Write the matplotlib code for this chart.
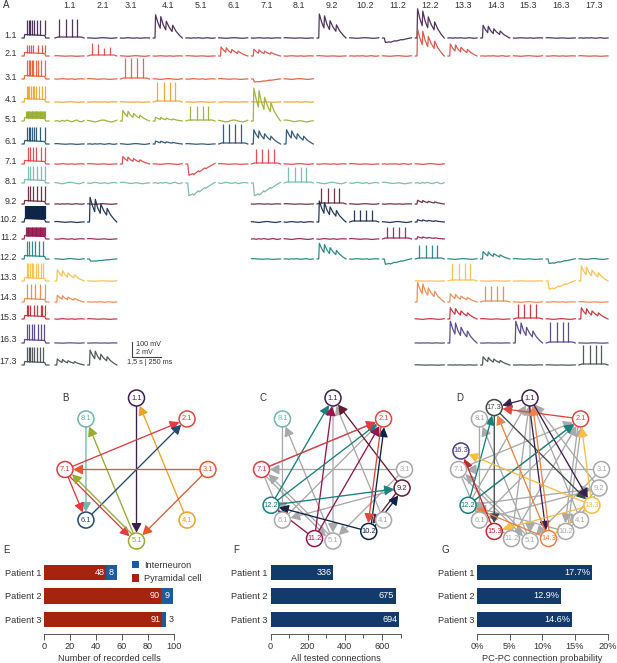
import numpy as np
import matplotlib
matplotlib.use('Agg')
import matplotlib.pyplot as plt
from matplotlib.patches import Circle, FancyArrowPatch

plt.rcParams['font.family'] = ['Liberation Sans', 'DejaVu Sans']
TXT = '#333333'
GREY = '#a9a9a9'

cells = ['1.1', '2.1', '3.1', '4.1', '5.1', '6.1', '7.1', '8.1', '9.2', '10.2',
         '11.2', '12.2', '13.3', '14.3', '15.3', '16.3', '17.3']
cell_colors = ['#3d1f4f', '#e0473c', '#e8562e', '#f0a126', '#96ad2e', '#1f4c6e',
               '#e03c42', '#6fb7ad', '#5f1f30', '#0e2548', '#96174e', '#17817e',
               '#f9bd40', '#ee8245', '#c9252f', '#4a3a86', '#3d4a4a']

# synaptic responses in mV, row = cell in the row label, None = the spiking cell itself
n = np.nan
S = None
resp_1_1 = [S, 0, 0, 3.1, 0, 0, 0, 0, 3.2, 0, -0.6, 3.9, 0, 1.7, 0, 0, 0]
resp_2_1 = [0, S, 0, 0, 0, 1.2, 0.9, 0, 0, 0, 0, 3.6, 1.6, 0, 0, 0, 0]
resp_3_1 = [0, 0, S, 0, 0, 0, -0.4, 0, n, n, n, n, n, n, n, n, n]
resp_4_1 = [0, 0, 0, S, 0, 0, 0, 0, n, n, n, n, n, n, n, n, n]
resp_5_1 = [0, 0, 1.4, 0.5, S, 0, 4.4, 0, n, n, n, n, n, n, n, n, n]
resp_6_1 = [0, 0, 0, 0.4, 0, S, 1.9, 1.9, n, n, n, n, n, n, n, n, n]
resp_7_1 = [0, 0, 1.0, 0, -1.5, 0, S, 0, 0, 0, 0, 0, n, n, n, n, n]
resp_8_1 = [0, 0, 0, 0, -1.7, 0, -1.7, S, 0, 0, 0, 0, n, n, n, n, n]
resp_9_2 = [0, 0, n, n, n, n, 0, 0, S, 0, 0, 0.5, n, n, n, n, n]
resp_10_2 = [0, 3.3, n, n, n, n, 0, 0, 2.8, S, 0, 0.3, n, n, n, n, n]
resp_11_2 = [0, 0, n, n, n, n, 0, 0, 0, 0, S, 0.3, n, n, n, n, n]
resp_12_2 = [0, -0.3, n, n, n, n, 0, 0, 2.1, 0, -0.7, S, 0, 1.0, 0, -0.6, 0]
resp_13_3 = [1.5, 0, n, n, n, n, n, n, n, n, n, 0, S, 0, 0, -1.1, 2.0]
resp_14_3 = [0.9, 0, n, n, n, n, n, n, n, n, n, 2.6, 1.1, S, 0, 0, 0]
resp_15_3 = [0, 0, n, n, n, n, n, n, n, n, n, 0, 1.5, 0, S, 0, 1.5]
resp_16_3 = [0, 0, n, n, n, n, n, n, n, n, n, 0, 2.9, 0, 2.9, S, 0]
resp_17_3 = [0.8, 2.0, n, n, n, n, n, n, n, n, n, 0, 0, 1.1, 0, 0, S]
responses = [resp_1_1, resp_2_1, resp_3_1, resp_4_1, resp_5_1, resp_6_1, resp_7_1,
             resp_8_1, resp_9_2, resp_10_2, resp_11_2, resp_12_2, resp_13_3, resp_14_3,
             resp_15_3, resp_16_3, resp_17_3]

# noise size of the flat traces, per row
row_noise = [0.6, 0.6, 0.8, 0.5, 2.0, 0.8, 0.7, 1.6, 0.6, 1.0, 0.9, 0.8, 0.4, 0.6, 0.7, 0.3, 0.4]

# action potential height in mV (column 0 traces and the diagonal ones)
self_ap = [120, 73, 127, 107, 67, 113, 113, 113, 120, 107, 80, 120, 120, 120, 93, 127, 120]
diag_ap = [127, 87, 140, 133, 100, 133, 100, 107, 107, 80, 80, 93, 120, 107, 100, 140, 133]
ap_rundown_2_1 = [1, .9, .6, .7]

# spike times as fraction of the trace, first column
burst = [.07, .10, .13, .16, .19, .22, .25, .28, .31, .34, .37, .40, .43, .46, .49, .52,
         .55, .58, .61, .64, .67, .70, .73, .76]
self_spikes = [[.12, .17, .23, .30, .38, .47, .59, .77],
               [.12, .19, .27, .35, .52, .66, .78],
               [.12, .18, .23, .28, .35, .43, .52, .62, .77],
               [.10, .15, .20, .26, .32, .38, .45, .55, .66, .76],
               burst,
               [.12, .18, .24, .30, .37, .46, .58, .76],
               [.13, .22, .33, .46, .62, .78],
               [.14, .22, .34, .47, .62, .78],
               [.14, .24, .35, .48, .62, .78],
               burst,
               burst,
               [.12, .20, .30, .42, .56, .70],
               [.10, .16, .22, .28, .35, .43, .52, .62, .72],
               [.12, .26, .40, .60, .78],
               [.10, .13, .22, .36, .48, .62, .68, .78],
               [.12, .20, .29, .38, .50, .62, .74],
               [.12, .18, .24, .31, .38, .47, .58, .72]]
diag_spikes = [.14, .37, .57, .76]

# waveforms
epsp_t = [0, .06, .08, .16, .24, .26, .34, .43, .45, .55, .65, .67, .78, .90, 1.0]
epsp_v = [0, 0, 1.0, .66, .42, .92, .58, .35, .72, .46, .28, .55, .30, .12, 0]
neg_t = [0, .06, .10, .24, .27, .43, .46, .65, .68, .85, 1.0]
neg_v = [0, 0, -1.0, -.85, -.95, -.6, -.7, -.35, -.42, -.15, .05]
noise_a = [0, .2, -.3, .3, -.1, .4, 0, -.4, .1, .5, -.2, -.4, .2]
noise_b = [.3, .1, -.2, -.5, -.2, .2, .5, .4, 0, -.3, -.5, -.1, .4]
noise_c = [0, -.3, .1, .4, .2, -.2, -.1, .3, -.4, -.1, .2, .3, 0]
noise_d = [.4, .5, .2, 0, -.3, -.2, .1, .1, -.2, -.5, -.3, 0, .1]
noise_shapes = [noise_a, noise_b, noise_c, noise_d]

# layout of panel A, pixels
row_base = [38, 56, 79, 102, 121, 144, 164, 183, 204, 222, 239, 259, 281, 302, 319, 343, 365]
row_text = [36, 54, 77, 100, 120, 142, 162, 182, 202, 220, 237, 257, 278, 298, 317, 339, 361]
COL_X0 = 55
COL_STEP = 32.75
TRACE_W = 29
PX_PER_MV = 7.5
PX_PER_100MV = 15
TRACE_LW = 0.9
TRACE_ALPHA = 0.9

# networks: position on the ring in degrees clockwise from the top
ring_deg = {'1.1': 0, '2.1': 45, '3.1': 90, '9.2': 105, '13.3': 120, '4.1': 135, '10.2': 150,
            '14.3': 165, '5.1': 180, '11.2': 195, '15.3': 210, '6.1': 225, '12.2': 240,
            '7.1': 270, '16.3': 285, '8.1': 315, '17.3': 330}

edges_p1 = [('1.1', '5.1'), ('4.1', '1.1'), ('8.1', '6.1'), ('5.1', '8.1'), ('7.1', '2.1'),
            ('6.1', '2.1'), ('3.1', '7.1'), ('3.1', '5.1'), ('7.1', '6.1'), ('7.1', '5.1'),
            ('5.1', '7.1')]
edges_p2 = [('12.2', '1.1'), ('11.2', '1.1'), ('12.2', '2.1'), ('11.2', '2.1'), ('10.2', '2.1'),
            ('9.2', '1.1'), ('2.1', '10.2'), ('12.2', '9.2'), ('10.2', '12.2'), ('9.2', '10.2'),
            ('10.2', '9.2'), ('11.2', '12.2')]
edges_p2_grey = [('9.2', '6.1')]
edges_p3 = [('1.1', '17.3'), ('2.1', '17.3'), ('17.3', '15.3'), ('17.3', '13.3'), ('1.1', '14.3'),
            ('1.1', '13.3'), ('12.2', '17.3'), ('12.2', '2.1'), ('13.3', '2.1'), ('13.3', '16.3'),
            ('13.3', '14.3'), ('13.3', '15.3'), ('14.3', '1.1'), ('14.3', '17.3'), ('14.3', '12.2'),
            ('15.3', '16.3')]

# bar charts
patients = ['Patient 1', 'Patient 2', 'Patient 3']
pyramidal = [48, 90, 91]
interneuron = [8, 9, 3]
tested = [336, 675, 694]
probability = [17.7, 12.9, 14.6]

fig = plt.figure(figsize=(6.17, 6.63), dpi=100)
ax = fig.add_axes([0, 0, 1, 1])
ax.set_xlim(0, 617)
ax.set_ylim(663, 0)
ax.axis('off')

for name, x, y in [('A', 3, 5), ('B', 62, 398), ('C', 259, 398), ('D', 456, 398),
                   ('E', 3, 550), ('F', 233, 550), ('G', 441, 550)]:
    ax.text(x, y, name, fontsize=7, color=TXT, ha='left', va='center')

# panel A
for j, c in enumerate(cells):
    shift = -5 if c == '3.1' else 0
    ax.text(70 + COL_STEP * j + shift, 6, c, fontsize=6.4, color=TXT, ha='center', va='center')

for i, c in enumerate(cells):
    col = cell_colors[i]
    base = row_base[i]
    style = dict(color=col, lw=TRACE_LW, alpha=TRACE_ALPHA)
    ax.text(17, row_text[i], c, fontsize=6.4, color=TXT, ha='right', va='center')

    # first column, full spike train on a current step
    x0 = 22
    ax.plot(x0 + np.array([0, .08, .10, .84, .88, 1]) * 27,
            base - np.array([0, 0, 3.5, 2.5, 0, 0]), **style)
    spike_style = dict(color=col, lw=1.6, alpha=1) if c == '10.2' else style
    ax.vlines(x0 + np.array(self_spikes[i]) * 27 + 2, base - 3,
              base - self_ap[i] / 100 * PX_PER_100MV, **spike_style)

    for j, amp in enumerate(responses[i]):
        x1 = COL_X0 + COL_STEP * j
        if amp is None:
            ax.plot(x1 + np.array([0, .1, .9, 1]) * TRACE_W, base - np.array([0, 1, 1, 0]), **style)
            heights = np.full(len(diag_spikes), diag_ap[i] / 100 * PX_PER_100MV)
            if c == '2.1':
                heights = heights * np.array(ap_rundown_2_1)
            ax.vlines(x1 + np.array(diag_spikes) * TRACE_W, base - 1, base - heights, **style)
        elif np.isnan(amp):
            continue
        elif amp > 0:
            ax.plot(x1 + np.array(epsp_t) * TRACE_W, base - np.array(epsp_v) * amp * PX_PER_MV, **style)
        elif amp < 0:
            ax.plot(x1 + np.array(neg_t) * TRACE_W, base + np.array(neg_v) * amp * PX_PER_MV, **style)
        else:
            shape = noise_shapes[(3 * i + j) % 4]
            ax.plot(x1 + np.linspace(0, 1, len(shape)) * TRACE_W,
                    base - np.array(shape) * row_noise[i], **style)

# scale bar
ax.plot([132, 132, 161], [342, 357, 357], color='#444444', lw=0.8)
ax.text(136, 345, '100 mV', fontsize=5.2, color=TXT, va='center')
ax.text(136, 353, '2 mV', fontsize=5.2, color=TXT, va='center')
ax.text(127, 363, '1,5 s | 250 ms', fontsize=5.2, color=TXT, va='center')


# networks B, C, D
RING_R = 71.5
NODE_R = 8


def ring_xy(cx, cy, cell):
    a = np.deg2rad(ring_deg[cell])
    return cx + RING_R * np.sin(a), cy - RING_R * np.cos(a)


def draw_edges(cx, cy, edges, color=None, order=2):
    for a, b in edges:
        p = np.array(ring_xy(cx, cy, a))
        q = np.array(ring_xy(cx, cy, b))
        if (b, a) in edges:
            d = (q - p) / np.hypot(*(q - p))
            off = np.array([-d[1], d[0]]) * 1.6
            p, q = p + off, q + off
        c = color if color else cell_colors[cells.index(a)]
        ax.add_patch(FancyArrowPatch(p, q, arrowstyle='-|>,head_length=0.55,head_width=0.3',
                                     mutation_scale=10, shrinkA=5.5, shrinkB=6, lw=0.95,
                                     color=c, zorder=order))


def draw_nodes(cx, cy, grey_cells, color_cells):
    for c in grey_cells + color_cells:
        x, y = ring_xy(cx, cy, c)
        col = GREY if c in grey_cells else cell_colors[cells.index(c)]
        ax.add_patch(Circle((x, y), NODE_R, fc='white', ec=col, lw=1.1, zorder=4))
        ax.text(x, y, c, fontsize=5.4, color=col, ha='center', va='center', zorder=5)


# B
draw_edges(136.5, 469.5, edges_p1)
draw_nodes(136.5, 469.5, [], cells[:8])

# C
draw_edges(333, 469.5, edges_p1, GREY, 2)
draw_edges(333, 469.5, edges_p2_grey, GREY, 2)
draw_edges(333, 469.5, edges_p2 + [('7.1', '2.1')], None, 3)
draw_nodes(333, 469.5, ['3.1', '4.1', '5.1', '6.1'],
           ['1.1', '2.1', '7.1', '8.1', '9.2', '10.2', '11.2', '12.2'])

# D
draw_edges(530, 469.5, edges_p1 + edges_p2 + edges_p2_grey, GREY, 2)
draw_edges(530, 469.5, edges_p3, None, 3)
draw_nodes(530, 469.5, ['3.1', '4.1', '5.1', '6.1', '7.1', '8.1', '9.2', '10.2', '11.2'],
           ['1.1', '2.1', '12.2', '13.3', '14.3', '15.3', '16.3', '17.3'])


# bar panels E, F, G
def bar_axes(x_left, x_right, xmax):
    top, bottom = 559, 634
    b = fig.add_axes([x_left / 617, 1 - bottom / 663, (x_right - x_left) / 617, (bottom - top) / 663])
    b.set_xlim(0, xmax)
    b.set_ylim(2.617, -0.574)
    b.patch.set_alpha(0)
    for s in ['top', 'left', 'right']:
        b.spines[s].set_visible(False)
    b.spines['bottom'].set_color('#555555')
    b.spines['bottom'].set_linewidth(0.7)
    b.tick_params(axis='x', length=4, width=0.7, color='#555555', labelsize=6.6,
                  labelcolor=TXT, pad=2)
    b.tick_params(axis='y', length=0, labelsize=6.6, labelcolor=TXT, pad=2)
    return b


ypos = np.arange(len(patients))
RED = '#a6230d'
BLUE = '#1f5a9c'
NAVY = '#123a6a'

e = bar_axes(44, 174, 100)
red_bars = e.barh(ypos, pyramidal, height=0.66, color=RED, label='Pyramidal cell')
blue_bars = e.barh(ypos, interneuron, left=pyramidal, height=0.66, color=BLUE, label='Interneuron')
e.set_yticks(ypos, patients)
e.set_xticks([0, 20, 40, 60, 80, 100])
e.set_xlabel('Number of recorded cells', fontsize=6.6, color=TXT, labelpad=2)
for k in ypos:
    e.text(pyramidal[k] - 1, k, str(pyramidal[k]), color='white', fontsize=6.6, ha='right', va='center')
    if interneuron[k] > 5:
        e.text(pyramidal[k] + interneuron[k] / 2, k, str(interneuron[k]), color='white', fontsize=6.6,
               ha='center', va='center')
    else:
        e.text(pyramidal[k] + interneuron[k] + 2, k, str(interneuron[k]), color=TXT, fontsize=6.6,
               ha='left', va='center')
e.legend(handles=[blue_bars, red_bars], frameon=False, fontsize=6.6, loc='upper left',
         bbox_to_anchor=(0.68, 0.98), handlelength=0.75, handleheight=0.9, handletextpad=0.5,
         labelspacing=0.5, borderpad=0, borderaxespad=0, labelcolor=TXT)

f = bar_axes(270.5, 400.5, 700)
f.barh(ypos, tested, height=0.66, color=NAVY)
f.set_yticks(ypos, patients)
f.set_xticks([0, 200, 400, 600])
f.set_xticks([100, 300, 500, 700], minor=True)
f.tick_params(axis='x', which='minor', length=3, width=0.7, color='#555555')
f.set_xlabel('All tested connections', fontsize=6.6, color=TXT, labelpad=2)
for k in ypos:
    f.text(tested[k] - 8, k, str(tested[k]), color='white', fontsize=6.6, ha='right', va='center')

g = bar_axes(477, 607.5, 20)
g.barh(ypos, probability, height=0.66, color=NAVY)
g.set_yticks(ypos, patients)
g.set_xticks([0, 5, 10, 15, 20], ['0%', '5%', '10%', '15%', '20%'])
g.set_xlabel('PC-PC connection probability', fontsize=6.6, color=TXT, labelpad=2)
for k in ypos:
    g.text(probability[k] - 0.25, k, f'{probability[k]}%', color='white', fontsize=6.6, ha='right', va='center')

fig.savefig('out.png', dpi=100)
